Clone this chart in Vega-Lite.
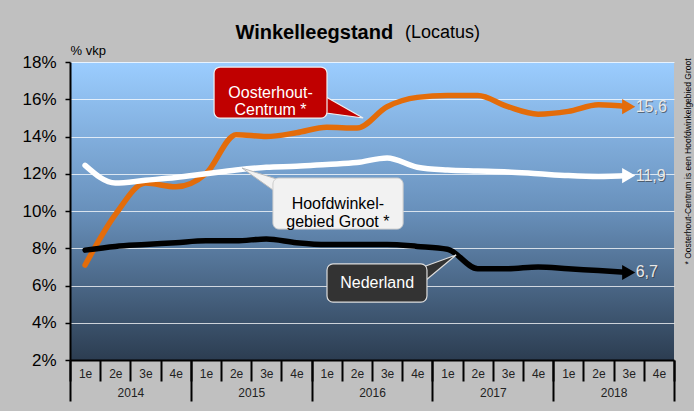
{
  "$schema": "https://vega.github.io/schema/vega-lite/v6.json",
  "width": 604,
  "height": 298,
  "autosize": "none",
  "padding": {"left": 70, "top": 62, "right": 20, "bottom": 51},
  "background": "#C0C0C0",
  "view": {
    "fill": {"gradient": "linear", "x1": 0, "y1": 0, "x2": 0, "y2": 1,
      "stops": [{"offset": 0, "color": "#9BCDFF"}, {"offset": 0.5, "color": "#6890BB"}, {"offset": 1, "color": "#2C3D51"}]},
    "stroke": null
  },
  "config": {
    "font": "Liberation Sans",
    "locale": {"number": {"decimal": ",", "thousands": ".", "grouping": [3], "currency": ["€", ""]}}
  },
  "datasets": {
    "series": [
      {"series": "Oosterhout", "quarter": "2014 1e", "t": 1, "v": 7.1},
      {"series": "Oosterhout", "quarter": "2014 2e", "t": 2, "v": 9.8},
      {"series": "Oosterhout", "quarter": "2014 3e", "t": 3, "v": 11.5},
      {"series": "Oosterhout", "quarter": "2014 4e", "t": 4, "v": 11.3},
      {"series": "Oosterhout", "quarter": "2015 1e", "t": 5, "v": 12.0},
      {"series": "Oosterhout", "quarter": "2015 2e", "t": 6, "v": 14.1},
      {"series": "Oosterhout", "quarter": "2015 3e", "t": 7, "v": 14.0},
      {"series": "Oosterhout", "quarter": "2015 4e", "t": 8, "v": 14.2},
      {"series": "Oosterhout", "quarter": "2016 1e", "t": 9, "v": 14.5},
      {"series": "Oosterhout", "quarter": "2016 2e", "t": 10, "v": 14.45},
      {"series": "Oosterhout", "quarter": "2016 3e", "t": 11, "v": 15.6},
      {"series": "Oosterhout", "quarter": "2016 4e", "t": 12, "v": 16.1},
      {"series": "Oosterhout", "quarter": "2017 1e", "t": 13, "v": 16.2},
      {"series": "Oosterhout", "quarter": "2017 2e", "t": 14, "v": 16.2},
      {"series": "Oosterhout", "quarter": "2017 3e", "t": 15, "v": 15.6},
      {"series": "Oosterhout", "quarter": "2017 4e", "t": 16, "v": 15.2},
      {"series": "Oosterhout", "quarter": "2018 1e", "t": 17, "v": 15.35},
      {"series": "Oosterhout", "quarter": "2018 2e", "t": 18, "v": 15.7},
      {"series": "Oosterhout", "quarter": "2018 3e", "t": 19, "v": 15.6},
      {"series": "Hoofdwinkel", "quarter": "2014 1e", "t": 1, "v": 12.45},
      {"series": "Hoofdwinkel", "quarter": "2014 2e", "t": 2, "v": 11.5},
      {"series": "Hoofdwinkel", "quarter": "2014 3e", "t": 3, "v": 11.65},
      {"series": "Hoofdwinkel", "quarter": "2014 4e", "t": 4, "v": 11.8},
      {"series": "Hoofdwinkel", "quarter": "2015 1e", "t": 5, "v": 12.0},
      {"series": "Hoofdwinkel", "quarter": "2015 2e", "t": 6, "v": 12.2},
      {"series": "Hoofdwinkel", "quarter": "2015 3e", "t": 7, "v": 12.35},
      {"series": "Hoofdwinkel", "quarter": "2015 4e", "t": 8, "v": 12.4},
      {"series": "Hoofdwinkel", "quarter": "2016 1e", "t": 9, "v": 12.5},
      {"series": "Hoofdwinkel", "quarter": "2016 2e", "t": 10, "v": 12.6},
      {"series": "Hoofdwinkel", "quarter": "2016 3e", "t": 11, "v": 12.85},
      {"series": "Hoofdwinkel", "quarter": "2016 4e", "t": 12, "v": 12.35},
      {"series": "Hoofdwinkel", "quarter": "2017 1e", "t": 13, "v": 12.2},
      {"series": "Hoofdwinkel", "quarter": "2017 2e", "t": 14, "v": 12.15},
      {"series": "Hoofdwinkel", "quarter": "2017 3e", "t": 15, "v": 12.1},
      {"series": "Hoofdwinkel", "quarter": "2017 4e", "t": 16, "v": 12.0},
      {"series": "Hoofdwinkel", "quarter": "2018 1e", "t": 17, "v": 11.9},
      {"series": "Hoofdwinkel", "quarter": "2018 2e", "t": 18, "v": 11.85},
      {"series": "Hoofdwinkel", "quarter": "2018 3e", "t": 19, "v": 11.9},
      {"series": "Nederland", "quarter": "2014 1e", "t": 1, "v": 7.9},
      {"series": "Nederland", "quarter": "2014 2e", "t": 2, "v": 8.1},
      {"series": "Nederland", "quarter": "2014 3e", "t": 3, "v": 8.2},
      {"series": "Nederland", "quarter": "2014 4e", "t": 4, "v": 8.3},
      {"series": "Nederland", "quarter": "2015 1e", "t": 5, "v": 8.4},
      {"series": "Nederland", "quarter": "2015 2e", "t": 6, "v": 8.4},
      {"series": "Nederland", "quarter": "2015 3e", "t": 7, "v": 8.5},
      {"series": "Nederland", "quarter": "2015 4e", "t": 8, "v": 8.3},
      {"series": "Nederland", "quarter": "2016 1e", "t": 9, "v": 8.2},
      {"series": "Nederland", "quarter": "2016 2e", "t": 10, "v": 8.2},
      {"series": "Nederland", "quarter": "2016 3e", "t": 11, "v": 8.2},
      {"series": "Nederland", "quarter": "2016 4e", "t": 12, "v": 8.1},
      {"series": "Nederland", "quarter": "2017 1e", "t": 13, "v": 7.95},
      {"series": "Nederland", "quarter": "2017 2e", "t": 14, "v": 6.9},
      {"series": "Nederland", "quarter": "2017 3e", "t": 15, "v": 6.9},
      {"series": "Nederland", "quarter": "2017 4e", "t": 16, "v": 7.0},
      {"series": "Nederland", "quarter": "2018 1e", "t": 17, "v": 6.9},
      {"series": "Nederland", "quarter": "2018 2e", "t": 18, "v": 6.8},
      {"series": "Nederland", "quarter": "2018 3e", "t": 19, "v": 6.7}
    ]
  },
  "data": {"name": "series"},
  "resolve": {"axis": {"x": "independent", "y": "independent"}},
  "layer": [
    {
      "mark": {"type": "line", "interpolate": "monotone", "strokeWidth": 5.5, "strokeCap": "round"},
      "encoding": {
        "x": {"field": "t", "type": "quantitative",
          "scale": {"domain": [0.5, 20.5], "nice": false, "zero": false},
          "axis": {"orient": "bottom", "values": [1,2,3,4,5,6,7,8,9,10,11,12,13,14,15,16,17,18,19,20],
            "labelExpr": "['1e','2e','3e','4e'][(datum.value-1)%4]",
            "ticks": false, "domain": false, "grid": false, "labelPadding": 8,
            "labelFontSize": 12, "labelColor": "#222222", "labelFlush": false, "title": null}},
        "y": {"field": "v", "type": "quantitative",
          "scale": {"domain": [2, 18], "nice": false, "zero": false},
          "axis": {"orient": "left", "values": [2,4,6,8,10,12,14,16,18], "labelExpr": "datum.value + '%'",
            "labelOverlap": false,
            "grid": true, "gridColor": "#FFFFFF", "gridOpacity": 0.75, "gridWidth": 1,
            "domainColor": "#000000", "domainWidth": 2, "tickColor": "#000000", "tickSize": 5, "tickWidth": 1.5,
            "labelFontSize": 17, "labelColor": "#000000", "labelPadding": 9, "labelFlush": false,
            "title": "% vkp", "titleAngle": 0, "titleAlign": "left", "titleBaseline": "bottom",
            "titleX": 0, "titleY": -5, "titleFontSize": 13, "titleFontWeight": "normal", "titleColor": "#000000"}},
        "color": {"field": "series", "type": "nominal",
          "scale": {"domain": ["Oosterhout", "Hoofdwinkel", "Nederland"], "range": ["#E36C0A", "#FFFFFF", "#000000"]},
          "legend": null}
      }
    },
    {
      "transform": [{"filter": "datum.t == 19"}],
      "mark": {"type": "point", "shape": "triangle-right", "filled": true, "opacity": 1, "size": 230},
      "encoding": {
        "x": {"field": "t", "type": "quantitative",
          "axis": {"orient": "bottom", "values": [0.5,1.5,2.5,3.5,4.5,5.5,6.5,7.5,8.5,9.5,10.5,11.5,12.5,13.5,14.5,15.5,16.5,17.5,18.5,19.5,20.5],
            "labels": false, "tickSize": 21, "tickWidth": 2, "tickColor": "#000000",
            "domain": true, "domainColor": "#000000", "domainWidth": 2, "grid": false, "title": null}},
        "y": {"field": "v", "type": "quantitative", "axis": null},
        "color": {"field": "series", "type": "nominal", "legend": null}
      }
    },
    {
      "transform": [{"filter": "datum.t == 19"}],
      "mark": {"type": "text", "align": "left", "baseline": "middle", "dx": 8, "dy": 1, "fontSize": 16, "fill": "#333333", "opacity": 0.6},
      "encoding": {
        "x": {"field": "t", "type": "quantitative",
          "axis": {"orient": "bottom", "values": [0.5, 4.5, 8.5, 12.5, 16.5, 20.5], "labels": false, "tickSize": 41, "tickWidth": 2,
            "tickColor": "#000000", "domain": false, "grid": false, "title": null}},
        "y": {"field": "v", "type": "quantitative", "axis": null},
        "text": {"field": "v", "type": "quantitative", "format": ".1f"}
      }
    },
    {
      "transform": [{"filter": "datum.t == 19"}],
      "mark": {"type": "text", "align": "left", "baseline": "middle", "dx": 7, "fontSize": 16, "fill": "#E8E8E8"},
      "encoding": {
        "x": {"field": "t", "type": "quantitative",
          "axis": {"orient": "bottom", "values": [2.5, 6.5, 10.5, 14.5, 18.5], "labelExpr": "'' + (2014 + (datum.value - 2.5) / 4)",
            "ticks": false, "domain": false, "grid": false, "labelPadding": 27, "labelFontSize": 12,
            "labelColor": "#222222", "title": null}},
        "y": {"field": "v", "type": "quantitative", "axis": null},
        "text": {"field": "v", "type": "quantitative", "format": ".1f"}
      }
    },
    {
      "data": {"values": [{}]},
      "mark": {"type": "point", "shape": "M-0.95,-0.55L0.9,0.5L-0.95,0.25Z", "size": 1600, "filled": true, "fill": "#C00000", "stroke": "#F0F0F0", "strokeWidth": 1.2, "opacity": 1},
      "encoding": {"x": {"datum": 9.61, "type": "quantitative", "axis": null}, "y": {"datum": 15.53, "type": "quantitative", "axis": null}}
    },
    {
      "data": {"values": [{}]},
      "mark": {"type": "rect", "cornerRadius": 6, "fill": "#C00000", "stroke": "#F0F0F0", "strokeWidth": 1.2},
      "encoding": {"x": {"datum": 5.27, "type": "quantitative", "axis": null}, "x2": {"datum": 9.01},
        "y": {"datum": 17.73, "type": "quantitative", "axis": null}, "y2": {"datum": 14.99}}
    },
    {
      "data": {"values": [{}]},
      "mark": {"type": "text", "text": ["Oosterhout-", "Centrum *"], "align": "center", "baseline": "middle", "lineHeight": 17, "fontSize": 16, "fill": "#FFFFFF"},
      "encoding": {"x": {"datum": 7.14, "type": "quantitative", "axis": null}, "y": {"datum": 16.36, "type": "quantitative", "axis": null}}
    },
    {
      "data": {"values": [{}]},
      "mark": {"type": "point", "shape": "M-1,-0.6L0.9,0L0.9,0.75Z", "size": 1600, "filled": true, "fill": "#F2F2F2", "stroke": "#BBBBBB", "strokeWidth": 1, "opacity": 1},
      "encoding": {"x": {"datum": 6.86, "type": "quantitative", "axis": null}, "y": {"datum": 11.66, "type": "quantitative", "axis": null}}
    },
    {
      "data": {"values": [{}]},
      "mark": {"type": "rect", "cornerRadius": 6, "fill": "#F2F2F2", "stroke": "#CCCCCC", "strokeWidth": 1},
      "encoding": {"x": {"datum": 7.22, "type": "quantitative", "axis": null}, "x2": {"datum": 11.53},
        "y": {"datum": 11.77, "type": "quantitative", "axis": null}, "y2": {"datum": 9.03}}
    },
    {
      "data": {"values": [{}]},
      "mark": {"type": "text", "text": ["Hoofdwinkel-", "gebied Groot *"], "align": "center", "baseline": "middle", "lineHeight": 18, "fontSize": 16, "fill": "#000000"},
      "encoding": {"x": {"datum": 9.37, "type": "quantitative", "axis": null}, "y": {"datum": 10.38, "type": "quantitative", "axis": null}}
    },
    {
      "data": {"values": [{}]},
      "mark": {"type": "point", "shape": "M-0.9,0L0.9,-0.65L-0.9,0.85Z", "size": 1600, "filled": true, "fill": "#333333", "stroke": "#DDDDDD", "strokeWidth": 1.2, "opacity": 1},
      "encoding": {"x": {"datum": 12.69, "type": "quantitative", "axis": null}, "y": {"datum": 6.94, "type": "quantitative", "axis": null}}
    },
    {
      "data": {"values": [{}]},
      "mark": {"type": "rect", "cornerRadius": 6, "fill": "#333333", "stroke": "#DDDDDD", "strokeWidth": 1.2},
      "encoding": {"x": {"datum": 9.01, "type": "quantitative", "axis": null}, "x2": {"datum": 12.32},
        "y": {"datum": 7.16, "type": "quantitative", "axis": null}, "y2": {"datum": 5.11}}
    },
    {
      "data": {"values": [{}]},
      "mark": {"type": "text", "text": "Nederland", "align": "center", "baseline": "middle", "fontSize": 16, "fill": "#FFFFFF"},
      "encoding": {"x": {"datum": 10.67, "type": "quantitative", "axis": null}, "y": {"datum": 6.13, "type": "quantitative", "axis": null}}
    },
    {
      "data": {"values": [{}]},
      "mark": {"type": "text", "text": "Winkelleegstand", "align": "right", "baseline": "middle", "fontSize": 20, "fontWeight": "bold", "fill": "#000000"},
      "encoding": {"x": {"datum": 11.2, "type": "quantitative", "axis": null}, "y": {"datum": 19.56, "type": "quantitative", "axis": null}}
    },
    {
      "data": {"values": [{}]},
      "mark": {"type": "text", "text": "(Locatus)", "align": "left", "baseline": "middle", "fontSize": 18, "fill": "#000000"},
      "encoding": {"x": {"datum": 11.59, "type": "quantitative", "axis": null}, "y": {"datum": 19.56, "type": "quantitative", "axis": null}}
    },
    {
      "data": {"values": [{}]},
      "mark": {"type": "text", "text": "* Oosterhout-Centrum is een Hoofdwinkelgebied Groot", "align": "center", "baseline": "middle", "angle": 270, "fontSize": 8.5, "fill": "#000000"},
      "encoding": {"x": {"datum": 20.97, "type": "quantitative", "axis": null}, "y": {"datum": 12.66, "type": "quantitative", "axis": null}}
    }
  ]
}
